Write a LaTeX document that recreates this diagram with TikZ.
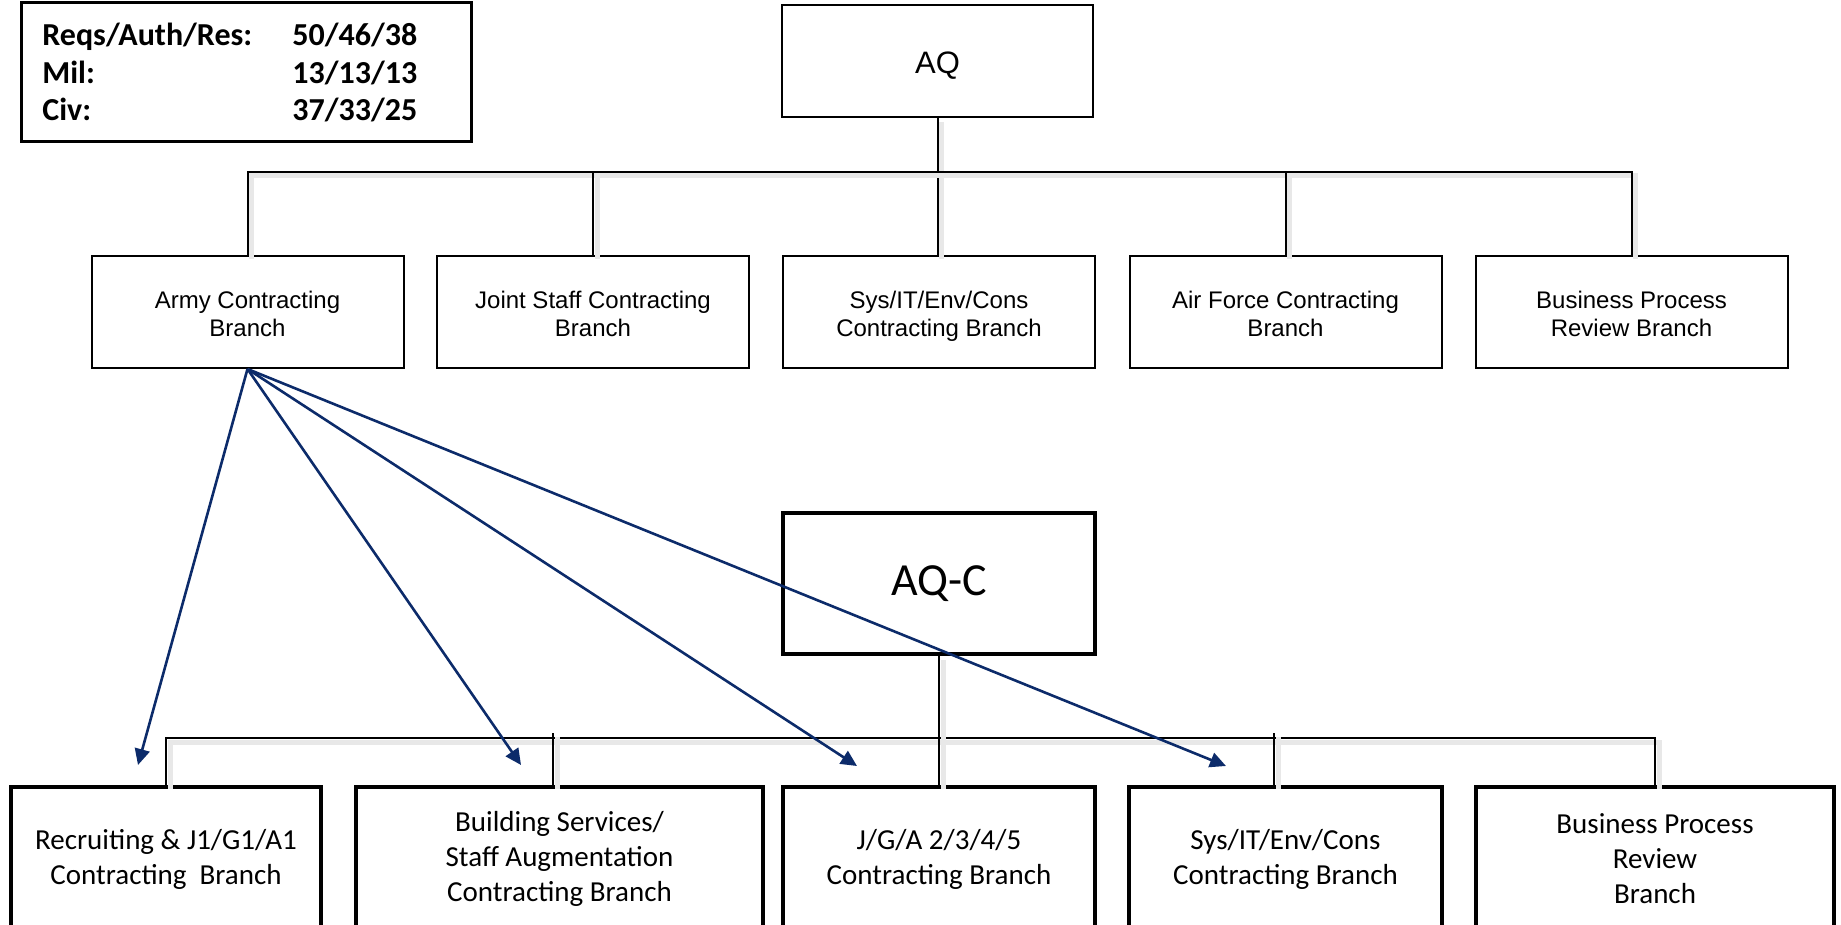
\documentclass[tikz,border=0pt]{standalone}
\usepackage{fontspec}
\newfontfamily\arialf{Liberation Sans}
\newfontfamily\calf{Carlito}
\usetikzlibrary{arrows.meta}
\definecolor{navy}{HTML}{0C2B6A}
\newcommand{\topgap}{\rule{0pt}{14.8pt}}
\begin{document}
\begin{tikzpicture}[x=0.5pt,y=-0.5pt,
  topbox/.style={draw, line width=1pt, fill=white, minimum width=156pt, minimum height=56pt, inner sep=0pt, align=center, font=\arialf\fontsize{12}{14}\selectfont},
  botbox/.style={draw, line width=2pt, fill=white, minimum height=72pt, inner sep=0pt, align=center, font=\calf\fontsize{14.5}{17.5}\selectfont},
  conn/.style={line width=1pt, preaction={draw=black!9, line width=2.5pt, transform canvas={shift={(2pt,-2pt)}}}},
  arr/.style={draw=navy, line width=1.3pt, -{Triangle[length=8pt,width=7.5pt]}},
]
\useasboundingbox (0,0) rectangle (1841,925);
\clip (0,0) rectangle (1841,925);

% stats box
\node[draw, line width=1.5pt, minimum width=225pt, minimum height=69.5pt, inner sep=0pt] (stats) at (246,72.5) {};
\node[anchor=west, inner sep=0pt, align=left, font=\calf\bfseries\fontsize{16}{18.75}\selectfont] (statstext) at (42,73)
  {\makebox[125pt][l]{Reqs/Auth/Res:}50/46/38\\ \makebox[125pt][l]{Mil:}13/13/13\\ \makebox[125pt][l]{Civ:}37/33/25};

% top level
\node[draw, line width=1pt, fill=white, minimum width=155.5pt, minimum height=56pt, inner sep=0pt] (aq) at (937.5,61) {};
\node[inner sep=0pt, font=\arialf\fontsize{15.5}{18}\selectfont] (aqlabel) at (937.5,66) {AQ};

\node[topbox] (army) at (247.5,312) {\topgap Army Contracting\\Branch\strut};
\node[topbox] (joint) at (593,312) {\topgap Joint Staff Contracting\\Branch\strut};
\node[topbox] (sys1) at (939,312) {\topgap Sys/IT/Env/Cons\\Contracting Branch\strut};
\node[topbox] (af) at (1285.5,312) {\topgap Air Force Contracting\\Branch\strut};
\node[topbox] (bpr1) at (1631.5,312) {\topgap Business Process\\Review Branch\strut};

% AQ-C
\node[draw, line width=2pt, fill=white, minimum width=156pt, minimum height=70.5pt, inner sep=0pt, font=\calf\fontsize{23}{27}\selectfont] (aqc) at (939,583.5) {AQ-C};

\node[botbox, minimum width=155pt] (rec) at (166,859) {Recruiting \& J1/G1/A1\\Contracting~ Branch};
\node[botbox, minimum width=203.5pt] (bld) at (559.5,859) {Building Services/\\Staff Augmentation\\Contracting Branch};
\node[botbox, minimum width=156pt] (jga) at (939,859) {J/G/A 2/3/4/5\\Contracting Branch};
\node[botbox, minimum width=156.5pt] (sys2) at (1285.5,859) {Sys/IT/Env/Cons\\Contracting Branch};
\node[botbox, minimum width=179pt] (bpr2) at (1655,859) {Business Process\\Review\\Branch};

% top connectors
\coordinate (tb) at (938,172);
\draw[conn] (aq.south) -- (aq.south |- sys1.north);
\draw[conn] (army.north) -- (army.north |- tb) -- (bpr1.north |- tb) -- (bpr1.north);
\draw[conn] (joint.north) -- (joint.north |- tb);
\draw[conn] (af.north) -- (af.north |- tb);

% bottom connectors
\coordinate (bb) at (938,738);
\coordinate (bldj) at (553,733);
\coordinate (sysj) at (1274,733);
\draw[conn] (rec.north) -- (rec.north |- bb) -- (bpr2.north |- bb) -- (bpr2.north);
\draw[conn] (bldj) -- (bldj |- bld.north);
\draw[conn] (sysj) -- (sysj |- sys2.north);
\draw[conn] (aqc.south) -- (aqc.south |- jga.north);

% arrows
\coordinate (t1) at (138,765);
\coordinate (t2) at (521,765);
\coordinate (t3) at (857,766);
\coordinate (t4) at (1226,766);
\draw[arr] (army.south) -- (t1);
\draw[arr] (army.south) -- (t2);
\draw[arr] (army.south) -- (t3);
\draw[arr] (army.south) -- (t4);
\end{tikzpicture}
\end{document}
